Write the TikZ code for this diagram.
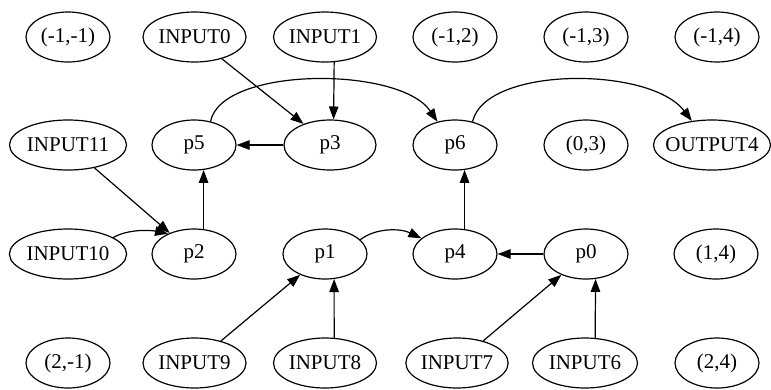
\documentclass[tikz,border=0pt]{standalone}
\usepackage{fontspec}
\setmainfont{Liberation Serif}
\usetikzlibrary{shapes.geometric,arrows.meta}
\begin{document}
\begin{tikzpicture}[x=1pt,y=-1pt,
  cell/.style={draw,ellipse,line width=1.2pt,inner sep=0pt,minimum width=84pt,minimum height=50pt,font=\fontsize{21}{24}\selectfont},
  wide/.style={cell,minimum width=103pt},
  wider/.style={cell,minimum width=117pt},
  link/.style={line width=1.2pt,-{Triangle[length=13pt,width=9.5pt]}}]
  \useasboundingbox (0,0) rectangle (771,389);

  \node[cell]  (m1m1) at (68,37)    {(-1,-1)};
  \node[wide]  (in0)  at (194.5,37) {INPUT0};
  \node[wide]  (in1)  at (325,37)   {INPUT1};
  \node[cell]  (m12)  at (455,37)   {(-1,2)};
  \node[cell]  (m13)  at (586,37)   {(-1,3)};
  \node[cell]  (m14)  at (717,37)   {(-1,4)};

  \node[wider] (in11) at (68,145)   {INPUT11};
  \node[cell]  (p5)   at (194,145)  {p5};
  \node[cell,minimum width=92pt] (p3) at (330,145) {p3};
  \node[cell]  (p6)   at (455,145)  {p6};
  \node[cell]  (z3)   at (586,145)  {(0,3)};
  \node[wider,inner xsep=-5.5pt] (out4) at (712,145) {OUTPUT4};

  \node[wider] (in10) at (68,254)   {INPUT10};
  \node[cell]  (p2)   at (194,254)  {p2};
  \node[cell]  (p1)   at (325,254)  {p1};
  \node[cell]  (p4)   at (455,254)  {p4};
  \node[cell]  (p0)   at (586,254)  {p0};
  \node[cell]  (o14)  at (716,254)  {(1,4)};

  \node[cell]  (t2m1) at (68,363)   {(2,-1)};
  \node[wide]  (in9)  at (194.5,363) {INPUT9};
  \node[wide]  (in8)  at (325,363)  {INPUT8};
  \node[wide,minimum width=101pt] (in7) at (457,363) {INPUT7};
  \node[wide,minimum width=105pt] (in6) at (585,363) {INPUT6};
  \node[cell]  (t24)  at (717,363)  {(2,4)};

  \draw[link] (in0) -- (p3);
  \draw[link] (in1.-70) -- (p3.82);
  \draw[link] (p3) -- (p5);
  \draw[link] (p5.55) .. controls (222,66) and (400,66) .. (p6.127);
  \draw[link] (p6.53) .. controls (485,66) and (650,66) .. (out4.130);
  \draw[link] (in11) -- (p2);
  \draw[link] (in10.20) .. controls (128,229) and (150,230) .. (p2.142);
  \draw[link] (p2.69) -- (p5.-69);
  \draw[link] (p1.22) .. controls (375,228) and (400,228) .. (p4.155);
  \draw[link] (p0) -- (p4);
  \draw[link] (p4.69) -- (p6.-69);
  \draw[link] (in9) -- (p1);
  \draw[link] (in8.70) -- (p1.-70);
  \draw[link] (in7) -- (p0);
  \draw[link] (in6.68) -- (p0.-69);
\end{tikzpicture}
\end{document}
